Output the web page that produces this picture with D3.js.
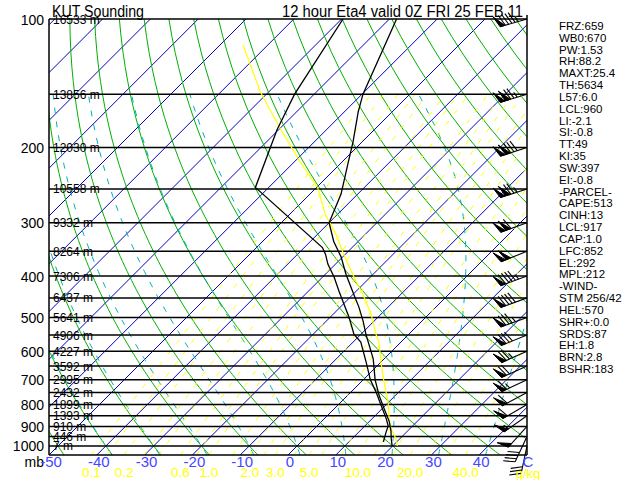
<!DOCTYPE html>
<html><head><meta charset="utf-8">
<script src="https://cdn.jsdelivr.net/npm/d3@7"></script>
<style>body{margin:0;background:#fff}svg{display:block}</style>
</head><body>
<svg id="c" width="640" height="480"></svg>
<script>
// ---------------- DATA ----------------
const titleLeft = "KUT Sounding";
const titleRight = "12 hour Eta4 valid 0Z FRI 25 FEB 11";

const pressureTicks = [100,200,300,400,500,600,700,800,900,1000];
const isobarLevels = [100,150,200,250,300,350,400,450,500,550,600,650,700,750,800,850,900,950,1000];
const heightLabels = ["16533 m","13856 m","12030 m","10558 m","9332 m","8264 m","7306 m","6437 m","5641 m",
  "4906 m","4227 m","3592 m","2995 m","2432 m","1899 m","1393 m","910 m","446 m","7 m"];

const tempTicks = [-50,-40,-30,-20,-10,0,10,20,30,40];
const mixTicks = [0.1,0.2,0.6,1.0,2.0,3.0,5.0,10.0,20.0,40.0];

// background lines (values)
const isothermValues = [-150,-140,-130,-120,-110,-100,-90,-80,-70,-60,-50,-40,-30,-20,-10,0,10,20,30,40,50];
const dryAdiabatValues = [-60,-50,-40,-30,-20,-10,0,10,20,30,40,50,60,70,80,90,100,110,120,130,140,150,160,170,180,190];
const moistAdiabatValues = [-40,-30,-20,-10,0,10,20,30,40];
const mixRatioValues = [0.1,0.14,0.2,0.3,0.4,0.6,0.8,1,1.5,2,2.5,3,4,5,6,8,10,12.5,16,20,25,32,40];

// temperature profile
const tempP = [100,150,165,194,219,257,300,332,361,396,441,473,510,547,625,700,763,819,877,922,962,1000];
const tempT = [-68.5,-59.8,-57.1,-51.9,-48.3,-43.5,-40.0,-35.1,-30.3,-25.7,-19.9,-16.1,-12.3,-9.0,-2.3,2.5,6.7,10.5,14.2,16.5,18.2,19.9];
// dewpoint profile
const dewP = [100,150,182,248,343,356,375,402,434,465,499,547,571,636,700,747,805,864,898,927,978];
const dewT = [-79.7,-74.1,-70.3,-62.8,-36.2,-34.1,-31.6,-27.6,-23.6,-19.9,-16.1,-11.5,-8.4,-3.1,1.5,5.2,9.2,13.0,14.9,15.7,17.2];
// parcel trace
const parcelP = [115,148,180,216,248,287,319,356,411,441,491,547,571,636,708,788,864,912,962,1000];
const parcelT = [-95.2,-81.8,-70.1,-58.8,-49.8,-42.5,-36.2,-30.3,-22.2,-18.0,-12.1,-6.9,-4.6,0.0,4.8,9.8,13.6,16.1,19.2,21.0];

// winds
const windP = [100,150,200,250,300,350,400,450,500,550,600,650,700,750,800,850,900,950,1000];
const windDir = [254,253,252,252,250,248,250,250,250,248,246,246,245,242,240,235,222,205,192];
const windSpd = [95,125,130,125,110,100,95,90,85,80,75,70,65,60,60,55,50,40,30];

const indexLines = ["FRZ:659","WB0:670","PW:1.53","RH:88.2","MAXT:25.4","TH:5634","L57:6.0","LCL:960",
  "LI:-2.1","SI:-0.8","TT:49","KI:35","SW:397","EI:-0.8","-PARCEL-","CAPE:513","CINH:13","LCL:917",
  "CAP:1.0","LFC:852","EL:292","MPL:212","-WIND-","STM 256/42","HEL:570","SHR+:0.0","SRDS:87",
  "EH:1.8","BRN:2.8","BSHR:183"];

// ---------------- CHART ----------------
const L = 49, R = 527, T0 = 19, B = 455;
const svg = d3.select("#c");
svg.append("rect").attr("width",640).attr("height",480).attr("fill","#fff");

const y = d3.scaleLog().domain([100,1050]).range([T0,B]);
const x = d3.scaleLinear().domain([-50,50]).range([L,R]);
const xs = (t,p) => x(t) + (B - y(p));   // skewed x

const line = d3.line().x(d=>xs(d[1],d[0])).y(d=>y(d[0]));

svg.append("clipPath").attr("id","clip").append("rect")
  .attr("x",L).attr("y",T0).attr("width",R-L).attr("height",B-T0);
const grid = svg.append("g").attr("clip-path","url(#clip)");

const FONT = "'Liberation Sans Narrow','Arial Narrow',sans-serif";

// isotherms
isothermValues.forEach(t=>{
  grid.append("path").attr("d", line([[1050,t],[100,t]]))
    .attr("stroke","#0000c8").attr("stroke-width",1).attr("fill","none");
});

// dry adiabats
const pSteps = d3.range(1050, 99, -10);
dryAdiabatValues.forEach(th=>{
  const K = th + 273.15;
  const pts = pSteps.map(p=>[p, K*Math.pow(p/1000,0.2857)-273.15]);
  grid.append("path").attr("d", line(pts))
    .attr("stroke","#00b000").attr("stroke-width",1).attr("fill","none");
});

// moist adiabats (pseudo-adiabatic integration)
function es(Tk){ const tc=Tk-273.15; return 6.112*Math.exp(17.67*tc/(tc+243.5)); }
function dTdp(Tk,p){
  const e = es(Tk); const rs = 0.622*e/Math.max(p-e,1e-3);
  const Lv=2.501e6, Rd=287.04, cp=1005.7;
  return ((Rd*Tk + Lv*rs)/p)/(cp + (Lv*Lv*rs*0.622)/(Rd*Tk*Tk));
}
moistAdiabatValues.forEach(tw=>{
  let Tk = tw+273.15, p=1000, dp=1;
  while(p<1050){ Tk += dTdp(Tk,p)*dp; p+=dp; }
  const pts=[[1050,Tk-273.15]];
  while(p>150){ Tk -= dTdp(Tk,p)*dp; p-=dp; if(Math.round(p)%10===0) pts.push([p,Tk-273.15]); }
  grid.append("path").attr("d", line(pts))
    .attr("stroke","#00b0b8").attr("stroke-width",1).attr("fill","none")
    .attr("stroke-dasharray","6,8");
});

// mixing ratio lines
function tdFromW(w,p){
  const e = w*p/(622+w); const l = Math.log(e/6.112);
  return 243.5*l/(17.67-l);
}
mixRatioValues.forEach(w=>{
  const pts = d3.range(1050,149,-10).map(p=>[p, tdFromW(w,p)]);
  grid.append("path").attr("d", line(pts))
    .attr("stroke","#ffff00").attr("stroke-width",1).attr("fill","none")
    .attr("stroke-dasharray","5,9");
});

// isobars
isobarLevels.forEach(p=>{
  svg.append("line").attr("x1",L).attr("x2",R).attr("y1",y(p)).attr("y2",y(p))
    .attr("stroke","#000").attr("stroke-width",1.5);
});
// frame
svg.append("line").attr("x1",L).attr("x2",R).attr("y1",B).attr("y2",B).attr("stroke","#000").attr("stroke-width",1.5);
svg.append("line").attr("x1",L).attr("x2",L).attr("y1",T0).attr("y2",B).attr("stroke","#000").attr("stroke-width",1.5);
svg.append("line").attr("x1",R).attr("x2",R).attr("y1",T0-4).attr("y2",B).attr("stroke","#000").attr("stroke-width",1.5);

// profiles
const prof = svg.append("g").attr("clip-path","url(#clip)");
prof.append("path").attr("d", line(parcelP.map((p,i)=>[p,parcelT[i]])))
  .attr("stroke","#ffff00").attr("stroke-width",1.2).attr("fill","none");
prof.append("path").attr("d", line(dewP.map((p,i)=>[p,dewT[i]])))
  .attr("stroke","#000").attr("stroke-width",1.3).attr("fill","none");
prof.append("path").attr("d", line(tempP.map((p,i)=>[p,tempT[i]])))
  .attr("stroke","#000").attr("stroke-width",1.3).attr("fill","none");

// wind barbs
const bg = svg.append("g");
windP.forEach((p,i)=>{
  const x0 = R, y0 = y(p);
  const rad = windDir[i]*Math.PI/180;
  const sx = Math.sin(rad), sy = -Math.cos(rad);
  const len = 28;
  const tx = x0+sx*len, ty = y0+sy*len;
  const px = -sy, py = sx;
  const fx = px*0.94 + sx*0.34, fy = py*0.94 + sy*0.34;
  bg.append("line").attr("x1",x0).attr("y1",y0).attr("x2",tx).attr("y2",ty)
    .attr("stroke","#000").attr("stroke-width",1.1);
  let rem = Math.round(windSpd[i]/5)*5, pos = 0;
  const blen = 12, sp = 3.4;
  while(rem>=50){
    const b1x=tx-sx*pos, b1y=ty-sy*pos, b2x=tx-sx*(pos+5), b2y=ty-sy*(pos+5);
    bg.append("path").attr("d",`M${b1x},${b1y}L${b1x+fx*blen},${b1y+fy*blen}L${b2x},${b2y}Z`)
      .attr("fill","#000").attr("stroke","#000").attr("stroke-width",1);
    pos += 5.5; rem -= 50;
  }
  while(rem>=10){
    const bx=tx-sx*pos, by=ty-sy*pos;
    bg.append("line").attr("x1",bx).attr("y1",by).attr("x2",bx+fx*blen).attr("y2",by+fy*blen)
      .attr("stroke","#000").attr("stroke-width",1.1);
    pos += sp; rem -= 10;
  }
  if(rem>=5){
    const bx=tx-sx*pos, by=ty-sy*pos;
    bg.append("line").attr("x1",bx).attr("y1",by).attr("x2",bx+fx*blen/2).attr("y2",by+fy*blen/2)
      .attr("stroke","#000").attr("stroke-width",1.1);
  }
});

// ---------------- TEXT ----------------
svg.append("text").attr("x",52).attr("y",17).text(titleLeft)
  .attr("textLength",92).attr("lengthAdjust","spacingAndGlyphs")
  .attr("font-family",FONT).attr("font-size",16).attr("fill","#000");
svg.append("text").attr("x",282).attr("y",17).text(titleRight)
  .attr("textLength",241).attr("lengthAdjust","spacingAndGlyphs")
  .attr("font-family",FONT).attr("font-size",16).attr("fill","#000");

pressureTicks.forEach(p=>{
  svg.append("text").attr("x",44).attr("y",y(p)+5.5).attr("text-anchor","end").text(p)
    .attr("font-family",FONT).attr("font-size",14).attr("fill","#000");
});
svg.append("text").attr("x",44).attr("y",467).attr("text-anchor","end").text("mb")
  .attr("font-family",FONT).attr("font-size",14).attr("fill","#000");

isobarLevels.forEach((p,i)=>{
  svg.append("text").attr("x",53).attr("y",y(p)+4.5).text(heightLabels[i])
    .attr("font-family",FONT).attr("font-size",12).attr("fill","#000");
});

tempTicks.forEach(t=>{
  svg.append("text").attr("x",x(t)+2).attr("y",467).attr("text-anchor","middle").text(t)
    .attr("font-family",FONT).attr("font-size",15).attr("fill","#4646ff");
});
svg.append("text").attr("x",528).attr("y",467).attr("text-anchor","middle").text("C")
  .attr("font-family",FONT).attr("font-size",15).attr("fill","#4646ff");

mixTicks.forEach(w=>{
  svg.append("text").attr("x",xs(tdFromW(w,1050),1050)).attr("y",477).attr("text-anchor","middle")
    .text(w.toFixed(1)).attr("font-family",FONT).attr("font-size",13.5).attr("fill","#ffff00");
});
svg.append("text").attr("x",528).attr("y",478).attr("text-anchor","middle").text("g/kg")
  .attr("font-family",FONT).attr("font-size",13).attr("fill","#ffff00");

indexLines.forEach((s,i)=>{
  svg.append("text").attr("x",559).attr("y",30+i*11.83).text(s)
    .attr("font-family",FONT).attr("font-size",11.5).attr("fill","#000");
});
</script>
</body></html>
